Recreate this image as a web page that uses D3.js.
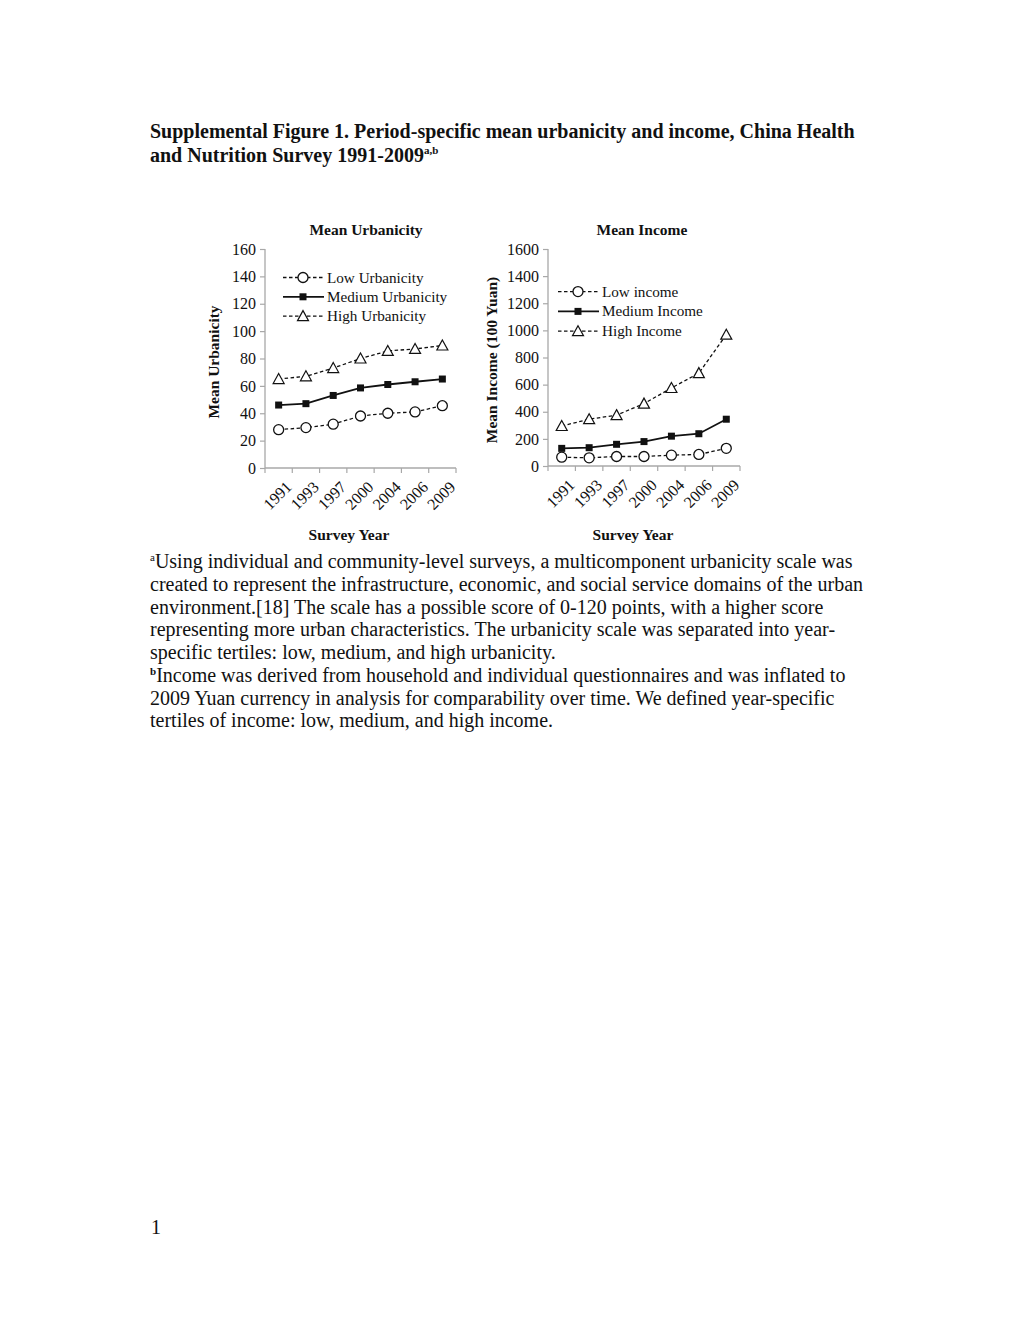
<!DOCTYPE html>
<html><head><meta charset="utf-8">
<script src="https://cdn.jsdelivr.net/npm/d3@7"></script>
<style>
body{margin:0;background:#fff;}
svg text{font-family:"Liberation Serif","Times New Roman",serif;fill:#111;}
</style></head>
<body>
<svg id="page" width="1020" height="1320"></svg>
<script>
const years = ["1991","1993","1997","2000","2004","2006","2009"];
const urbLow = [28, 29.5, 32, 38, 40, 41, 45.5];
const urbMed = [46, 47, 53, 58.5, 61, 63, 65];
const urbHigh = [65, 67, 73, 80, 85.5, 87, 89.5];
const incLow = [65, 60, 70, 70, 80, 85, 130];
const incMed = [130, 135, 160, 180, 220, 238, 345];
const incHigh = [295, 345, 375, 460, 575, 685, 968];
const urbTicks = [0,20,40,60,80,100,120,140,160];
const incTicks = [0,200,400,600,800,1000,1200,1400,1600];
const urbLegend = ["Low Urbanicity","Medium Urbanicity","High Urbanicity"];
const incLegend = ["Low income","Medium Income","High Income"];

const svg = d3.select("#page");

// heading
svg.append("text").attr("x",150).attr("y",138).attr("font-size",20).attr("font-weight","bold")
  .text("Supplemental Figure 1. Period-specific mean urbanicity and income, China Health");
const h2 = svg.append("text").attr("x",150).attr("y",162).attr("font-size",20).attr("font-weight","bold");
h2.append("tspan").text("and Nutrition Survey 1991-2009");
h2.append("tspan").attr("font-size",11).attr("dy",-8).text("a,b");

function chart(cfg){
  const g = svg.append("g");
  const x = d3.scaleBand().domain(years).range([cfg.x0, cfg.x1]);
  const y = d3.scaleLinear().domain([0, cfg.max]).range([cfg.y0, cfg.y1]);
  const yAx = g.append("g").attr("transform",`translate(${cfg.x0},0)`)
    .call(d3.axisLeft(y).tickValues(cfg.ticks).tickSize(5).tickPadding(4).tickFormat(d3.format("d")));
  const xAx = g.append("g").attr("transform",`translate(0,${cfg.y0})`)
    .call(d3.axisBottom(x).tickSize(5).tickFormat(""));
  xAx.selectAll(".tick").remove();
  const bounds = years.map(d=>x(d)).concat([cfg.x1]);
  xAx.selectAll("line.b").data(bounds).join("line").attr("class","b")
    .attr("x1",d=>d).attr("x2",d=>d).attr("y1",0).attr("y2",5);
  [yAx,xAx].forEach(a=>{
    a.select(".domain").attr("stroke","#a8a8a8").attr("stroke-width",1.3);
    a.selectAll("line").attr("stroke","#a8a8a8").attr("stroke-width",1.2);
    a.selectAll("text").attr("font-size",16).attr("fill","#222").style("font-family","Liberation Serif");
  });
  yAx.select(".domain").attr("d",`M0,${cfg.y0}V${cfg.y1}`);
  xAx.select(".domain").attr("d",`M${cfg.x0},0H${cfg.x1}`);
  // x labels
  g.selectAll("text.xl").data(years).join("text").attr("class","xl")
    .attr("transform",d=>`translate(${x(d)+x.bandwidth()/2+14},${cfg.y0+20}) rotate(-45)`)
    .attr("text-anchor","end").attr("font-size",16).attr("fill","#222").text(d=>d);
  // titles
  g.append("text").attr("x",cfg.tx).attr("y",235).attr("text-anchor","middle")
    .attr("font-size",15.5).attr("font-weight","bold").text(cfg.title);
  g.append("text").attr("x",cfg.sx).attr("y",540).attr("text-anchor","middle")
    .attr("font-size",15.5).attr("font-weight","bold").text("Survey Year");
  g.append("text").attr("transform",`translate(${cfg.ytx},${cfg.yty}) rotate(-90)`)
    .attr("text-anchor","middle").attr("font-size",15.5).attr("font-weight","bold").text(cfg.ytitle);
  const line = d3.line().x((d,i)=>x(years[i])+x.bandwidth()/2).y(d=>y(d));
  const series = [
    {v:cfg.low, dash:"3.5,2.5", m:"circle"},
    {v:cfg.med, dash:null, m:"square"},
    {v:cfg.high, dash:"3.5,2.5", m:"triangle"}];
  function marker(sel, m){
    if(m==="circle") sel.append("circle").attr("r",5).attr("fill","#fff").attr("stroke","#111").attr("stroke-width",1.3);
    else if(m==="square") sel.append("rect").attr("x",-3.5).attr("y",-3.5).attr("width",7).attr("height",7).attr("fill","#111");
    else sel.append("path").attr("d","M0,-5.5L5.5,4.5L-5.5,4.5Z").attr("fill","#fff").attr("stroke","#111").attr("stroke-width",1.2);
  }
  series.forEach(s=>{
    g.append("path").datum(s.v).attr("d",line).attr("fill","none").attr("stroke","#111")
      .attr("stroke-width",s.dash?1.3:1.8).attr("stroke-dasharray",s.dash);
    s.v.forEach((d,i)=>{
      const mg = g.append("g").attr("transform",`translate(${x(years[i])+x.bandwidth()/2},${y(d)})`);
      marker(mg,s.m);
    });
  });
  // legend
  cfg.legend.forEach((t,i)=>{
    const ly = cfg.ly + i*cfg.lstep;
    const s = series[i];
    g.append("line").attr("x1",cfg.lx).attr("x2",cfg.lx+41).attr("y1",ly).attr("y2",ly)
      .attr("stroke","#111").attr("stroke-width",s.dash?1.3:1.8).attr("stroke-dasharray",s.dash);
    const mg = g.append("g").attr("transform",`translate(${cfg.lx+20},${ly})`);
    marker(mg,s.m);
    g.append("text").attr("x",cfg.lx+44).attr("y",ly+5).attr("font-size",15.2).attr("fill","#222").text(t);
  });
}

chart({x0:265,x1:456,y0:468,y1:249,max:160,ticks:urbTicks,title:"Mean Urbanicity",tx:366,sx:349,
  ytitle:"Mean Urbanicity",ytx:219,yty:362,low:urbLow,med:urbMed,high:urbHigh,legend:urbLegend,lx:283,ly:277.5,lstep:19.3});
chart({x0:548,x1:740,y0:466,y1:249,max:1600,ticks:incTicks,title:"Mean Income",tx:642,sx:633,
  ytitle:"Mean Income (100 Yuan)",ytx:497,yty:360,low:incLow,med:incMed,high:incHigh,legend:incLegend,lx:558,ly:291.6,lstep:19.8});

// footnotes
const lines = [
  [["sup","a"],["t","Using individual and community-level surveys, a multicomponent urbanicity scale was"]],
  [["t","created to represent the infrastructure, economic, and social service domains of the urban"]],
  [["t","environment.[18] The scale has a possible score of 0-120 points, with a higher score"]],
  [["t","representing more urban characteristics. The urbanicity scale was separated into year-"]],
  [["t","specific tertiles: low, medium, and high urbanicity."]],
  [["supb","b"],["t","Income was derived from household and individual questionnaires and was inflated to"]],
  [["t","2009 Yuan currency in analysis for comparability over time. We defined year-specific"]],
  [["t","tertiles of income: low, medium, and high income."]]
];
lines.forEach((ln,i)=>{
  const t = svg.append("text").attr("x",150).attr("y",568+i*22.75).attr("font-size",20);
  ln.forEach(([k,s])=>{
    if(k==="t") t.append("tspan").attr("dy", (ln[0][0]!=="t")?7:0).text(s);
    else t.append("tspan").attr("font-size",11).attr("dy",-7).attr("font-weight",k==="supb"?"bold":"normal").text(s);
  });
});
svg.append("text").attr("x",151).attr("y",1234).attr("font-size",20).text("1");
</script>
</body></html>
